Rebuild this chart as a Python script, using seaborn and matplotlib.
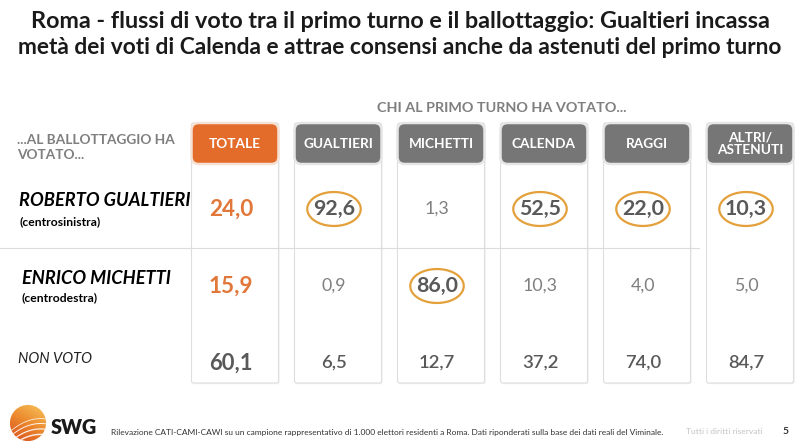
import numpy as np
import pandas as pd
import matplotlib
matplotlib.use("Agg")
import matplotlib.pyplot as plt
import seaborn as sns
from matplotlib.patches import FancyBboxPatch, Circle
from matplotlib.path import Path
from matplotlib import font_manager as fm

# ---------------- data ----------------
title_lines = [
    "Roma - flussi di voto tra il primo turno e il ballottaggio: Gualtieri incassa",
    "metà dei voti di Calenda e attrae consensi anche da astenuti del primo turno",
]
columns = ["TOTALE", "GUALTIERI", "MICHETTI", "CALENDA", "RAGGI", "ALTRI/\nASTENUTI"]
row_names = ["ROBERTO GUALTIERI", "ENRICO MICHETTI", "NON VOTO"]
row_notes = ["(centrosinistra)", "(centrodestra)", ""]
gualtieri_vals = [24.0, 92.6, 1.3, 52.5, 22.0, 10.3]
michetti_vals = [15.9, 0.9, 86.0, 10.3, 4.0, 5.0]
non_voto_vals = [60.1, 6.5, 12.7, 37.2, 74.0, 84.7]
highlight_rows = [0, 0, 0, 0, 1]
highlight_cols = [1, 3, 4, 5, 2]
header_left = "...AL BALLOTTAGGIO HA\nVOTATO..."
header_top = "CHI AL PRIMO TURNO HA VOTATO..."
footer_note = ("Rilevazione CATI-CAMI-CAWI su un campione rappresentativo di 1.000 elettori "
               "residenti a Roma. Dati riponderati sulla base dei dati reali del Viminale.")
footer_rights = "Tutti i diritti riservati"
page_number = "5"
brand = "SWG"

# ---------------- style ----------------
sns.set_theme(style="white")


def has_font(name):
    try:
        fm.findfont(fm.FontProperties(family=name), fallback_to_default=False)
        return True
    except Exception:
        return False


NARROW = "Liberation Sans Narrow" if has_font("Liberation Sans Narrow") else "Lato"
BODY = "Lato" if has_font("Lato") else "DejaVu Sans"
plt.rcParams["font.family"] = [BODY, "DejaVu Sans"]

ORANGE = "#E46C2B"
ORANGE_TXT = "#E2773A"
BTN_GRAY = "#767676"
DARK = "#595959"
MID = "#7F7F7F"
RING = "#E4A03A"
TALL = 1.12   # reference face is narrower, so equal widths need a slightly larger size

W, H = 800, 447
fig = plt.figure(figsize=(W / 100, H / 100), dpi=100)
fig.patch.set_facecolor("white")
renderer = fig.canvas.get_renderer()


def fx(p):
    return p / W


def fy(q):
    return 1 - q / H


def fit_size(s, width_px, **kw):
    t = fig.text(0, 0, s, fontsize=10, **kw)
    w = t.get_window_extent(renderer=renderer).width
    t.remove()
    return 10 * width_px / w


# ---------------- title ----------------
for line, yq, wpx in zip(title_lines, [21, 48], [742, 770]):
    sz = fit_size(line, wpx, family=[NARROW, "DejaVu Sans"], weight="bold")
    fig.text(0.5, fy(yq), line, ha="center", va="center", fontsize=sz,
             family=[NARROW, "DejaVu Sans"], weight="bold", color="#1A1A1A")

# ---------------- table axes ----------------
X0, DX = 235.0, 103.0   # px of column 0, px per column
Y0, DY = 209.0, 77.0    # px of row 0, px per row
ax = fig.add_axes([0, 0, 1, 1])
ax.patch.set_alpha(0)

long = pd.DataFrame({
    "row": np.repeat(np.arange(len(row_names)), len(columns)),
    "col": np.tile(np.arange(len(columns)), len(row_names)),
    "value": gualtieri_vals + michetti_vals + non_voto_vals,
})
hl = pd.DataFrame({"row": highlight_rows, "col": highlight_cols})

half_w = 43.5 / DX
box_top = (123 - Y0) / DY
box_bot = (383 - Y0) / DY
btn_bot = (164 - Y0) / DY
asp = DX / DY

for i in range(len(columns)):
    sh = FancyBboxPatch((i - half_w + 1.2 / DX, box_top + 1.2 / DY), 2 * half_w, box_bot - box_top,
                        boxstyle="round,pad=0,rounding_size=0.02", mutation_aspect=asp,
                        fc="#F2F2F2", ec="none", zorder=0.5)
    ax.add_patch(sh)
    bx = FancyBboxPatch((i - half_w, box_top), 2 * half_w, box_bot - box_top,
                        boxstyle="round,pad=0,rounding_size=0.02", mutation_aspect=asp,
                        fc="white", ec="#DEDEDE", lw=0.8, zorder=1)
    ax.add_patch(bx)
    btn = FancyBboxPatch((i - half_w, box_top), 2 * half_w, btn_bot - box_top,
                         boxstyle="round,pad=0,rounding_size=0.07", mutation_aspect=asp,
                         fc=ORANGE if i == 0 else BTN_GRAY,
                         ec="#F6E2D4" if i == 0 else "#E6E6E6", lw=1.8, zorder=3)
    ax.add_patch(btn)

btn_size = fit_size("GUALTIERI", 63, weight="bold") * 1.1
for i, name in enumerate(columns):
    ax.text(i, (box_top + btn_bot) / 2, name, ha="center", va="center", color="white",
            weight="bold", fontsize=btn_size, linespacing=1.0, zorder=4)

# separator between the two candidate rows
ax.plot([-X0 / DX, 4.5], [0.5, 0.5], color="#DCDCDC", lw=0.8, zorder=2)

# values
sz_total = fit_size("24,0", 40, weight="bold") * TALL
sz_hl = fit_size("92,6", 38, weight="bold") * TALL
sz_norm = fit_size("1,3", 22) * TALL
sz_nv_total = fit_size("60,1", 39, weight="bold") * TALL
sz_nv = fit_size("6,5", 23, weight="semibold") * TALL
for _, rw in long.iterrows():
    r, c, v = int(rw["row"]), int(rw["col"]), rw["value"]
    label = f"{v:.1f}".replace(".", ",")
    is_hl = ((hl["row"] == r) & (hl["col"] == c)).any()
    if c == 0 and r < 2:
        kw = dict(color=ORANGE_TXT, weight="bold", fontsize=sz_total)
    elif c == 0:
        kw = dict(color=DARK, weight="bold", fontsize=sz_nv_total)
    elif r == 2:
        kw = dict(color=DARK, weight="semibold", fontsize=sz_nv)
    elif is_hl:
        kw = dict(color=DARK, weight="bold", fontsize=sz_hl)
    else:
        kw = dict(color=MID, weight="normal", fontsize=sz_norm)
    ax.text(c - 4 / DX, r, label, ha="center", va="center", zorder=5, **kw)

# highlight rings
theta = np.linspace(0, 2 * np.pi, 73)
ring_marker = Path(np.column_stack([np.cos(theta), 0.635 * np.sin(theta)]), closed=True)
sns.scatterplot(data=hl, x=hl["col"] - 4 / DX, y="row", marker=ring_marker, s=38.5 ** 2,
                facecolors="none", edgecolor=RING, linewidth=1.6, ax=ax,
                legend=False, zorder=6)

ax.set_xlim(-X0 / DX, (W - X0) / DX)
ax.set_ylim((H - Y0) / DY, -Y0 / DY)
ax.axis("off")

# ---------------- row labels ----------------
NB = [NARROW, "DejaVu Sans"]
sz_name = fit_size(row_names[0], 172, family=NB, weight="bold", style="italic")
fig.text(fx(19), fy(201), row_names[0], ha="left", va="center", fontsize=sz_name,
         family=NB, weight="bold", style="italic", color="black")
fig.text(fx(22), fy(278), row_names[1], ha="left", va="center", fontsize=sz_name,
         family=NB, weight="bold", style="italic", color="black")
sz_note = fit_size(row_notes[0], 77, family=NB, weight="bold") * 1.05
fig.text(fx(20), fy(222), row_notes[0], ha="left", va="center", fontsize=sz_note,
         family=NB, weight="bold", color="black")
fig.text(fx(22), fy(298), row_notes[1], ha="left", va="center", fontsize=sz_note,
         family=NB, weight="bold", color="black")
sz_nv_lab = fit_size(row_names[2], 66, family=NB, style="italic") * TALL
fig.text(fx(18), fy(359), row_names[2], ha="left", va="center", fontsize=sz_nv_lab,
         family=NB, style="italic", color="#222222")

sz_hdr = fit_size("...AL BALLOTTAGGIO HA", 157, weight="bold")
fig.text(fx(17), fy(147), header_left, ha="left", va="center", fontsize=sz_hdr,
         weight="bold", color=MID, linespacing=1.3)
sz_top = fit_size(header_top, 236, weight="bold") * 1.06
fig.text(fx(377), fy(108), header_top, ha="left", va="center", fontsize=sz_top,
         weight="bold", color=MID)

# ---------------- footer ----------------
sz_foot = fit_size(footer_note, 551, family=NB)
fig.text(fx(111), fy(432), footer_note, ha="left", va="center", fontsize=sz_foot,
         family=NB, color="#333333")
sz_r = fit_size(footer_rights, 77, family=NB)
fig.text(fx(686), fy(432), footer_rights, ha="left", va="center", fontsize=sz_r,
         family=NB, color="#C4C4C4")
fig.text(fx(783), fy(432), page_number, ha="left", va="center", fontsize=sz_r * 1.2,
         family=NB, weight="bold", color="#333333")
sz_brand = fit_size(brand, 42, weight="heavy") * 1.1
fig.text(fx(51), fy(427), brand, ha="left", va="center", fontsize=sz_brand,
         weight="heavy", color="#1A1A1A")

# logo
lax = fig.add_axes([fx(9), fy(442), 38 / W, 38 / H])
lax.set_xlim(-1.05, 1.05)
lax.set_ylim(-1.05, 1.05)
lax.axis("off")
gx, gy = np.meshgrid(np.linspace(-1, 1, 120), np.linspace(-1, 1, 120))
grad = np.clip(0.5 + 0.35 * gy + 0.2 * gx, 0, 1)
cmap = matplotlib.colors.LinearSegmentedColormap.from_list("lg", ["#D9531E", "#EC8A2E", "#F7C25A"])
im = lax.imshow(grad, extent=[-1, 1, -1, 1], origin="lower", cmap=cmap, zorder=1)
clip = Circle((0, 0), 1, transform=lax.transData)
im.set_clip_path(clip)
t = np.linspace(-1.2, 1.2, 80)
for k, off in enumerate([-0.75, -0.45, -0.15, 0.12]):
    ln, = lax.plot(t, off + 0.35 * t - 0.25 * t ** 2, color="white", lw=1.0 - 0.15 * k,
                   alpha=0.9, zorder=2)
    ln.set_clip_path(Circle((0, 0), 1, transform=lax.transData))

fig.savefig("out.png", dpi=100, facecolor="white")
